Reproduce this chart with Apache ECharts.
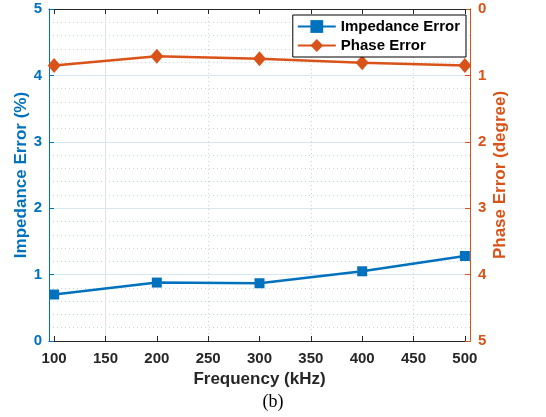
<!DOCTYPE html>
<html>
<head>
<meta charset="utf-8">
<script src="https://cdn.jsdelivr.net/npm/echarts@6/dist/echarts.min.js"></script>
<style>html,body{margin:0;padding:0;background:#fff;}#c{width:546px;height:417px;}</style>
</head>
<body>
<div id="c"></div>
<script>
// ---- data ----
const frequency = [100, 200, 300, 400, 500];
const impedanceError = [0.70, 0.88, 0.87, 1.05, 1.28];
const phaseError = [0.85, 0.71, 0.75, 0.81, 0.85];
const xTickLabels = [100, 150, 200, 250, 300, 350, 400, 450, 500];
const leftTicks = [0, 1, 2, 3, 4, 5];
const rightTicks = [0, 1, 2, 3, 4, 5];

const BLUE = '#0072BD', ORANGE = '#D95319', DARK = '#262626';
const FONT = '"Liberation Sans", Arial, sans-serif';

// split line colour cycles (ticks every 5 starting at 95)
const majorCycle = [], minorCycle = [];
for (let i = 0; i < 10; i++) {
  majorCycle.push(i === 1 ? '#e3e3e3' : 'rgba(0,0,0,0)');
  minorCycle.push((i % 2 === 1 && i !== 1) ? '#cfcfcf' : 'rgba(0,0,0,0)');
}

const chart = echarts.init(document.getElementById('c'), null, {renderer: 'canvas'});
chart.setOption({
  animation: false,
  backgroundColor: '#fff',
  grid: {left: 49, right: 76, top: 9, bottom: 76, containLabel: false},
  legend: {
    orient: 'vertical',
    right: 80, top: 15,
    data: ['Impedance Error', 'Phase Error'],
    backgroundColor: '#fff',
    borderColor: '#000', borderWidth: 1,
    padding: [4, 6, 4, 4],
    itemGap: 4,
    itemWidth: 38, itemHeight: 16,
    textStyle: {color: '#000', fontWeight: 'bold', fontSize: 15, fontFamily: FONT}
  },
  xAxis: [{
    type: 'value', position: 'bottom',
    min: 95, max: 505, interval: 5,
    name: 'Frequency (kHz)', nameLocation: 'middle', nameGap: 30, nameMoveOverlap: false,
    nameTextStyle: {color: DARK, fontWeight: 'bold', fontSize: 17, fontFamily: FONT},
    axisLine: {show: true, lineStyle: {color: DARK, width: 1}},
    axisTick: {show: true, inside: true, length: 5, customValues: xTickLabels, lineStyle: {color: DARK}},
    axisLabel: {customValues: xTickLabels, color: DARK, fontWeight: 'bold', fontSize: 15, fontFamily: FONT, margin: 10},
    splitLine: {show: true, lineStyle: {color: majorCycle, width: 1}}
  }, {
    type: 'value', position: 'top',
    min: 95, max: 505, interval: 5,
    axisLine: {show: true, lineStyle: {color: DARK, width: 1}},
    axisTick: {show: true, inside: true, length: 5, customValues: xTickLabels, lineStyle: {color: DARK}},
    axisLabel: {show: false},
    splitLine: {show: true, lineStyle: {color: minorCycle, width: 1, type: [1, 3]}}
  }],
  yAxis: [{
    type: 'value', position: 'left',
    min: 0, max: 5, interval: 1,
    name: 'Impedance Error (%)', nameLocation: 'middle', nameGap: 19, nameRotate: 90, nameMoveOverlap: false,
    nameTextStyle: {color: BLUE, fontWeight: 'bold', fontSize: 17, fontFamily: FONT},
    axisLine: {show: true, lineStyle: {color: BLUE, width: 1}},
    axisTick: {show: true, inside: true, length: 5, lineStyle: {color: BLUE}},
    axisLabel: {color: BLUE, fontWeight: 'bold', fontSize: 15, fontFamily: FONT, margin: 7,
      formatter: v => leftTicks.includes(v) ? String(v) : ''},
    splitLine: {show: true, lineStyle: {color: '#d8e6f2', width: 1}},
    minorTick: {show: false, splitNumber: 5},
    minorSplitLine: {show: true, lineStyle: {color: '#bcd4ea', width: 1, type: [1, 3]}}
  }, {
    type: 'value', position: 'right', inverse: true,
    min: 0, max: 5, interval: 1,
    name: 'Phase Error (degree)', nameLocation: 'middle', nameGap: 22, nameRotate: 90, nameMoveOverlap: false,
    nameTextStyle: {color: ORANGE, fontWeight: 'bold', fontSize: 17, fontFamily: FONT},
    axisLine: {show: true, lineStyle: {color: ORANGE, width: 1}},
    axisTick: {show: true, inside: true, length: 5, lineStyle: {color: ORANGE}},
    axisLabel: {color: ORANGE, fontWeight: 'bold', fontSize: 15, fontFamily: FONT, margin: 8,
      formatter: v => rightTicks.includes(v) ? String(v) : ''},
    splitLine: {show: false}
  }],
  series: [{
    name: 'Impedance Error', type: 'line', xAxisIndex: 0, yAxisIndex: 0,
    data: frequency.map((f, i) => [f, impedanceError[i]]),
    color: BLUE,
    lineStyle: {color: BLUE, width: 2.5},
    itemStyle: {color: BLUE},
    symbol: 'rect', symbolSize: 10, showSymbol: true
  }, {
    name: 'Phase Error', type: 'line', xAxisIndex: 0, yAxisIndex: 1,
    data: frequency.map((f, i) => [f, phaseError[i]]),
    color: ORANGE,
    lineStyle: {color: ORANGE, width: 2.5},
    itemStyle: {color: ORANGE},
    symbol: 'diamond', symbolSize: [13, 15], showSymbol: true
  }],
  graphic: [{
    type: 'text', left: 'center', top: 393,
    style: {text: '(b)', fill: '#000', font: '18px "Liberation Serif", "Times New Roman", serif'}
  }]
});
</script>
</body>
</html>
